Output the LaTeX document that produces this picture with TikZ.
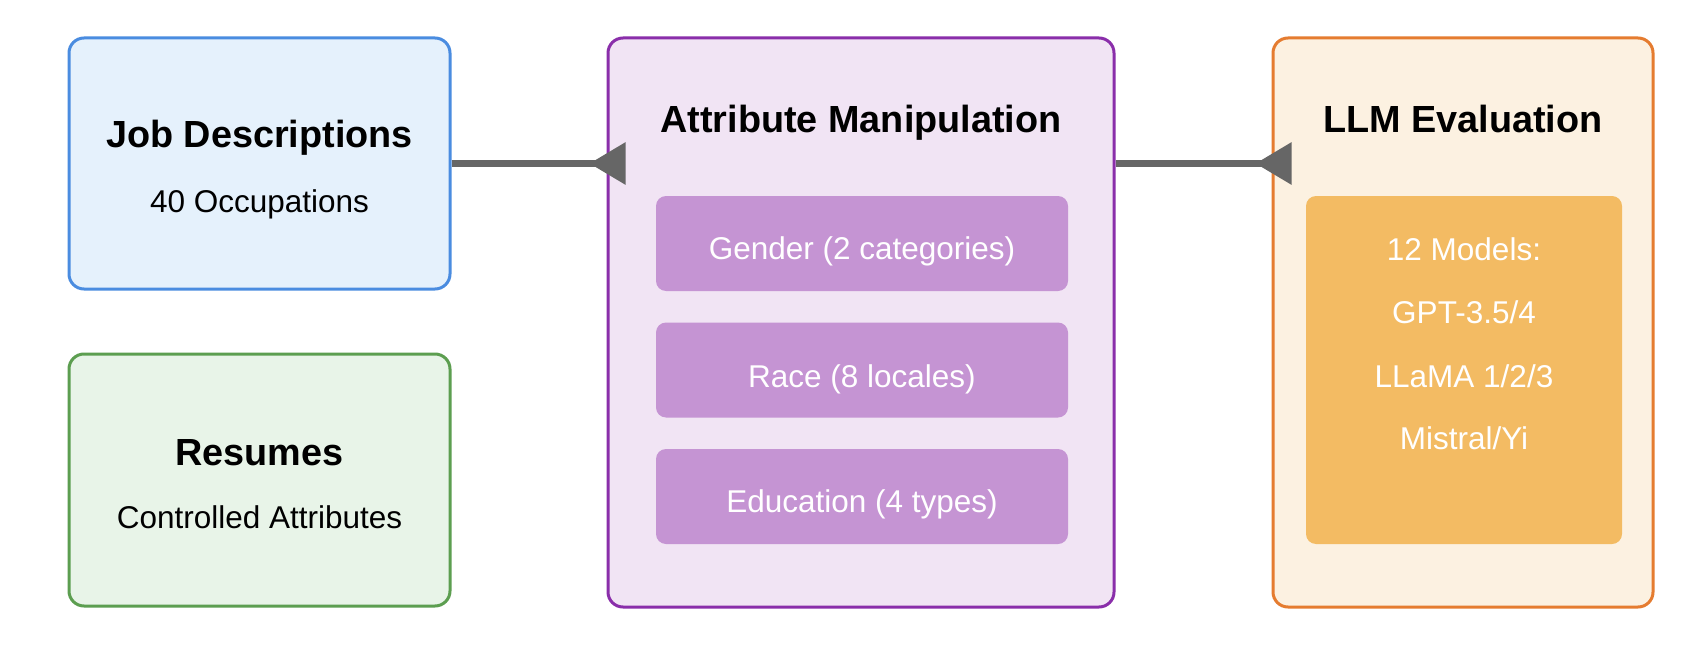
\documentclass[tikz,border=0pt]{standalone}
\usepackage{fontspec}
\setmainfont{Liberation Sans}
\usetikzlibrary{arrows.meta,calc,positioning}
\definecolor{jobfill}{HTML}{E5F1FC}
\definecolor{jobline}{HTML}{4A8CE0}
\definecolor{resfill}{HTML}{E8F4E8}
\definecolor{resline}{HTML}{5C9E50}
\definecolor{attfill}{HTML}{F1E4F4}
\definecolor{attline}{HTML}{8A2EAA}
\definecolor{attitem}{HTML}{C594D3}
\definecolor{llmfill}{HTML}{FCF1E1}
\definecolor{llmline}{HTML}{E57C30}
\definecolor{llmitem}{HTML}{F3BB63}
\definecolor{arrgray}{HTML}{666666}
\tikzset{panel/.style={draw,line width=3pt,rounded corners=15pt,inner sep=0pt},
  item/.style={rounded corners=10pt,inner sep=0pt},
  ttl/.style={anchor=base,font=\bfseries\fontsize{37.8}{44}\selectfont},
  txt/.style={anchor=base,font=\fontsize{31.5}{38}\selectfont},
  conn/.style={arrgray,line width=6pt,-{Triangle[reversed,length=36pt,width=41pt]}}}

\begin{document}
\begin{tikzpicture}[x=1pt,y=-1pt]
\useasboundingbox[fill=white] (0,0) rectangle (1700,650);
% --- inputs
\node[panel,draw=jobline,fill=jobfill,minimum width=381,minimum height=251] (job) at (259.5,163.5) {};
\node[ttl] (jobttl) at (259.5,148) {Job Descriptions};
\node[txt] (jobtxt) at (259.5,212) {40 Occupations};
\node[panel,draw=resline,fill=resfill,minimum width=381,minimum height=252] (res) at (259.5,480) {};
\node[ttl] (resttl) at (259.5,465) {Resumes};
\node[txt] (restxt) at (259.5,528) {Controlled Attributes};
% --- attribute manipulation
\node[panel,draw=attline,fill=attfill,minimum width=506,minimum height=569] (att) at (861,322.5) {};
\node[ttl] (attttl) at (861,132) {Attribute Manipulation};
\foreach \y/\b/\t [count=\i] in {243.5/259/Gender (2 categories),370/387/Race (8 locales),496.5/512/Education (4 types)}{
  \node[item,fill=attitem,minimum width=412,minimum height=95] (attbox\i) at (862,\y) {};
  \node[txt,white] (atttxt\i) at (862,\b) {\t};
}
% --- LLM evaluation
\node[panel,draw=llmline,fill=llmfill,minimum width=380,minimum height=569] (llm) at (1463,322.5) {};
\node[ttl] (llmttl) at (1463,132) {LLM Evaluation};
\node[item,fill=llmitem,minimum width=316,minimum height=348] (llmbox) at (1464,370) {};
\foreach \b/\t [count=\i] in {260/{12 Models:},323/{GPT-3.5/4},387/{LLaMA 1/2/3},449/{Mistral/Yi}}
  \node[txt,white] (llmtxt\i) at (1464,\b) {\t};
% --- connectors
\coordinate (a1) at ([xshift=19]job.east -| att.west);
\coordinate (a2) at ([xshift=20]job.east -| llm.west);
\draw[conn] (job.east) -- (a1);
\draw[conn] (job.east -| att.east) -- (a2);
\end{tikzpicture}
\end{document}
